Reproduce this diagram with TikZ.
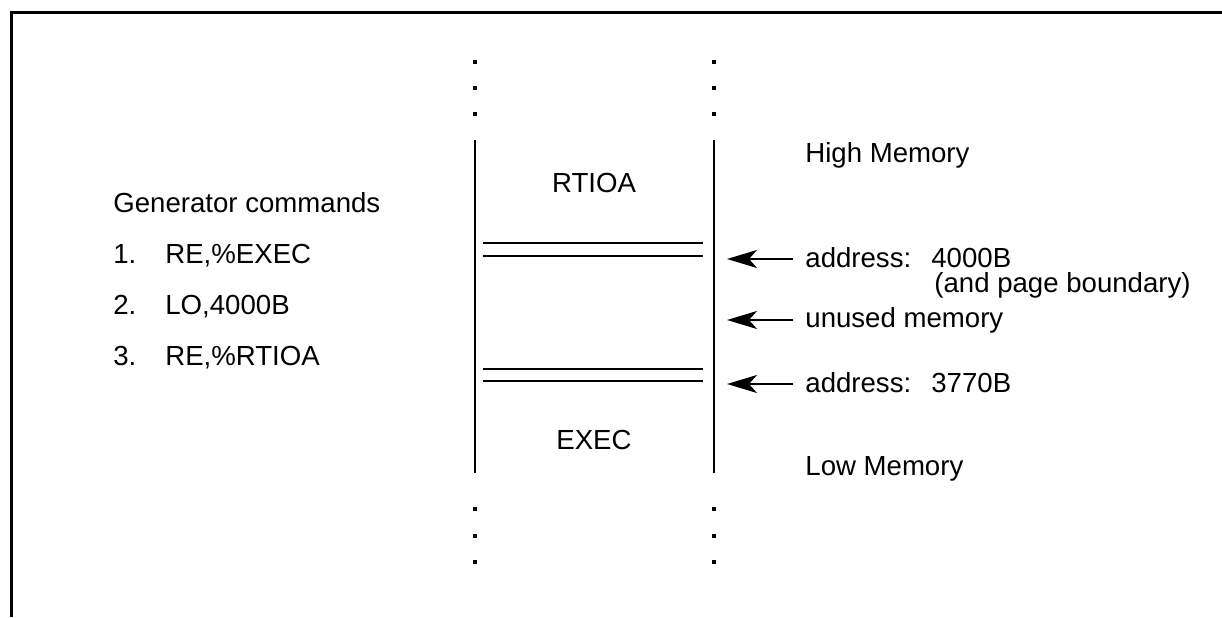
\documentclass[tikz,border=0pt]{standalone}
\usepackage{fontspec}
\setmainfont{Liberation Sans}
\usetikzlibrary{arrows.meta,positioning}

\tikzset{
  lbl/.style={font=\fontsize{13.8}{16}\selectfont, inner sep=0pt},
  note/.style={lbl, inner xsep=6pt, text height=10pt, text depth=2pt},
  ptr/.style={-{Stealth[length=15pt,width=9pt,inset=4pt]}, line width=0.9pt},
  wall/.style={line width=1.2pt},
  bound/.style={line width=1pt}
}

\begin{document}
\begin{tikzpicture}[x=0.5pt,y=0.5pt]
  \useasboundingbox (0,0) rectangle (1222,617);
  % outer frame
  \draw[line width=1.5pt] (11,0) -- (11,604) -- (1222,604);

  % memory column
  \coordinate (lt) at (475,477);
  \coordinate (lb) at (475,144);
  \coordinate (rt) at (714,477);
  \coordinate (rb) at (714,144);
  \draw[wall] (lt) -- (lb);
  \draw[wall] (rt) -- (rb);
  \foreach \x in {475,714}
    \foreach \y in {555,529,503,108,81,55}
      \fill (\x-1.7,\y-1.7) rectangle ++(3.4,3.4);

  % boundaries
  \draw[bound] (483,374) -- (703,374);
  \draw[bound] (483,361) -- (703,361);
  \draw[bound] (483,248) -- (703,248);
  \draw[bound] (483,236) -- (703,236);

  \node[lbl, anchor=base] (rtioa) at (594,424) {RTIOA};
  \node[lbl, anchor=base] (exec) at (594,168) {EXEC};

  % left: commands
  \node[lbl, anchor=base west] (gen) at (113,404) {Generator commands};
  \node[lbl, anchor=base west] (n1) at (113,353) {1.};
  \node[lbl, anchor=base west] (c1) at (165,353) {RE,\%EXEC};
  \node[lbl, anchor=base west] (n2) at (113,302) {2.};
  \node[lbl, anchor=base west] (c2) at (165,302) {LO,4000B};
  \node[lbl, anchor=base west] (n3) at (113,252) {3.};
  \node[lbl, anchor=base west] (c3) at (165,252) {RE,\%RTIOA};

  % right: notes
  \node[lbl, anchor=base west] (high) at (805,454) {High Memory};
  \node[lbl, anchor=base west] (low) at (805,142) {Low Memory};

  \coordinate (tiphi) at (727,358);
  \coordinate (tipmid) at (727,297);
  \coordinate (tiplo) at (727,233);
  \node[note, anchor=west] (addrhi) at (793,358) {\makebox[63pt][l]{address:}4000B};
  \node[lbl, anchor=base west] (pagebd) at (934,324) {(and page boundary)};
  \node[note, anchor=west] (unused) at (793,297) {unused memory};
  \node[note, anchor=west] (addrlo) at (793,233) {\makebox[63pt][l]{address:}3770B};

  \draw[ptr] (addrhi.west) -- (tiphi);
  \draw[ptr] (unused.west) -- (tipmid);
  \draw[ptr] (addrlo.west) -- (tiplo);
\end{tikzpicture}
\end{document}
